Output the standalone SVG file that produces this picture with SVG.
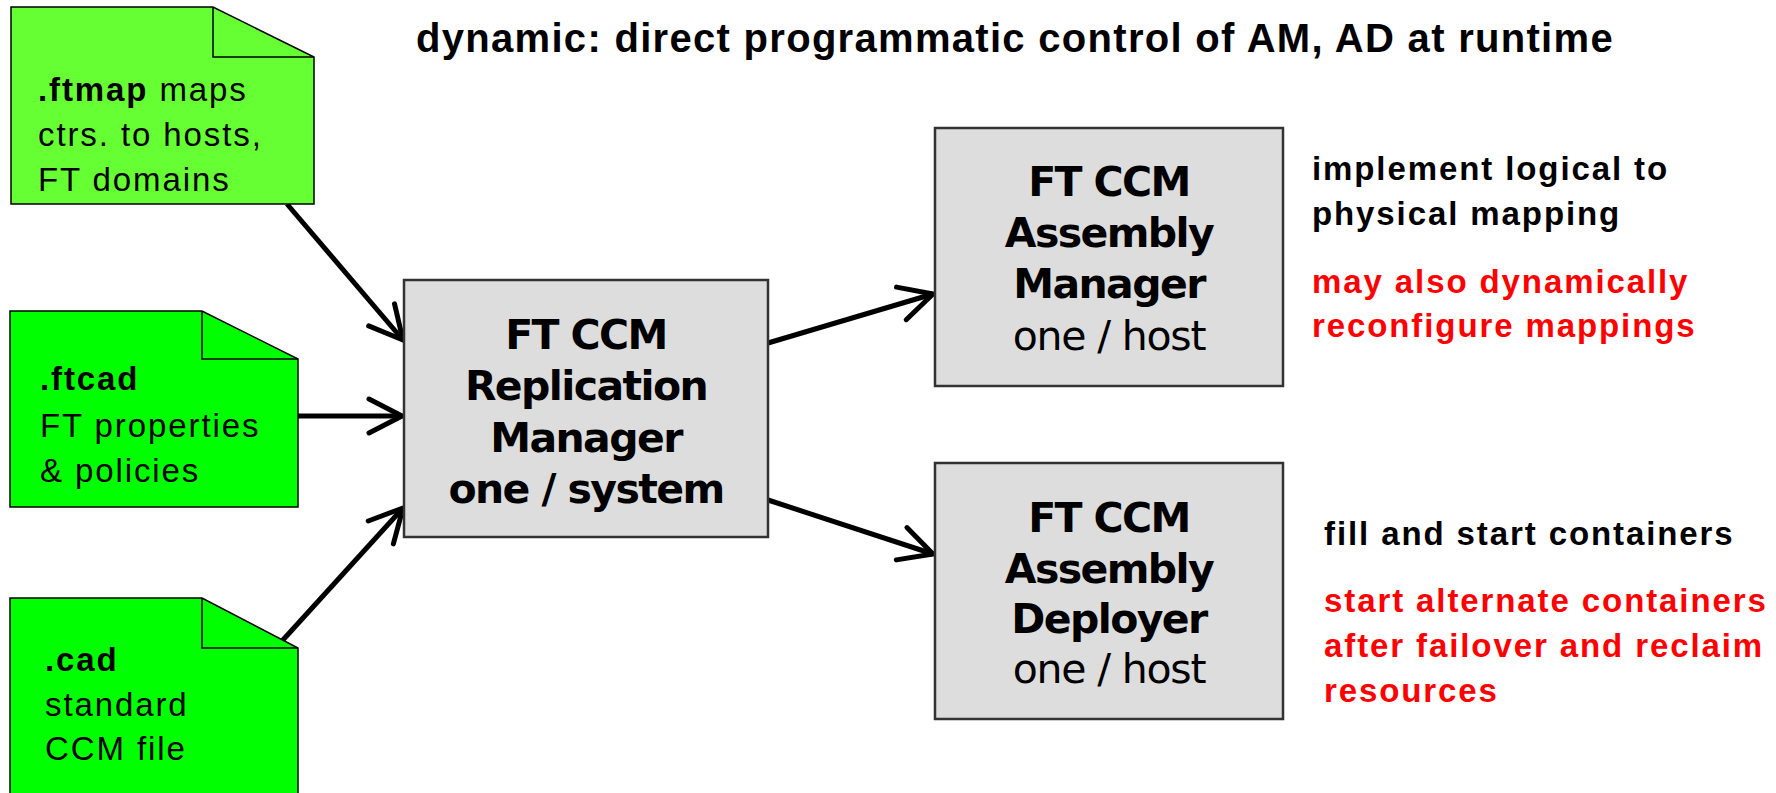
<svg xmlns="http://www.w3.org/2000/svg" width="1776" height="793" viewBox="0 0 1776 793">
  <style>
    .sans { font-family: "Liberation Sans", Arial, sans-serif; font-size: 33px; letter-spacing: 1.9px; }
    .b { font-weight: bold; }
    .red { fill: #FF0000; }
    .title { font-family: "Liberation Sans", Arial, sans-serif; font-size: 40px; font-weight: bold; letter-spacing: 1.3px; }
    .doc { stroke: #000; stroke-width: 1.5; }
    .fold { fill: none; stroke: #000; stroke-width: 1.5; }
    .box { fill: #DDDDDD; stroke: #333; stroke-width: 2.5; }
    .bt { font-family: "DejaVu Sans", Verdana, sans-serif; font-size: 41px; font-weight: bold; letter-spacing: -1.6px; text-anchor: middle; }
    .rt { font-family: "DejaVu Sans", Verdana, sans-serif; font-size: 41px; letter-spacing: -1.2px; text-anchor: middle; }
    .conn { stroke: #000; stroke-width: 5; fill: none; marker-end: url(#arr); }
  </style>
  <defs>
    <marker id="arr" markerUnits="userSpaceOnUse" viewBox="-40 -22 46 44" refX="0" refY="0" markerWidth="46" markerHeight="44" orient="auto" overflow="visible">
      <path d="M-33,-17 L0,0 L-33,17" fill="none" stroke="#000" stroke-width="5" stroke-linecap="round" stroke-linejoin="round"/>
    </marker>
  </defs>
  <rect width="1776" height="793" fill="#FFFFFF"/>

  <text class="title" x="416" y="52">dynamic: direct programmatic control of AM, AD at runtime</text>

  <!-- connectors -->
  <g id="connectors">
    <line class="conn" x1="287" y1="204" x2="403" y2="340"/>
    <line class="conn" x1="298" y1="416" x2="402" y2="416"/>
    <line class="conn" x1="282" y1="641" x2="403" y2="508"/>
    <line class="conn" x1="768" y1="343" x2="933" y2="294"/>
    <line class="conn" x1="768" y1="500" x2="933" y2="554"/>
  </g>

  <!-- input files -->
  <g id="ftmap">
    <path class="doc" fill="#66FF33" d="M11,7 L213,7 L314,57 L314,204 L11,204 Z"/>
    <path class="fold" d="M213,7 L213,57 L314,57"/>
    <text class="sans" x="38" y="101"><tspan class="b">.ftmap</tspan> maps</text>
    <text class="sans" x="38" y="146">ctrs. to hosts,</text>
    <text class="sans" x="38" y="191">FT domains</text>
  </g>

  <g id="ftcad">
    <path class="doc" fill="#00FF00" d="M10,311 L202,311 L298,359 L298,507 L10,507 Z"/>
    <path class="fold" d="M202,311 L202,359 L298,359"/>
    <text class="sans b" x="40" y="390">.ftcad</text>
    <text class="sans" x="40" y="437">FT properties</text>
    <text class="sans" x="40" y="482">&amp; policies</text>
  </g>

  <g id="cad">
    <path class="doc" fill="#00FF00" d="M10,598 L202,598 L298,648 L298,800 L10,800 Z"/>
    <path class="fold" d="M202,598 L202,648 L298,648"/>
    <text class="sans b" x="45" y="671">.cad</text>
    <text class="sans" x="45" y="716">standard</text>
    <text class="sans" x="45" y="760">CCM file</text>
  </g>

  <!-- managers -->
  <g id="replication-manager">
    <rect class="box" x="404" y="280" width="364" height="257"/>
    <text class="bt" x="586" y="349">FT CCM</text>
    <text class="bt" x="586" y="400">Replication</text>
    <text class="bt" x="586" y="452">Manager</text>
    <text class="bt" x="586" y="503">one / system</text>
  </g>

  <g id="assembly-manager">
    <rect class="box" x="935" y="128" width="348" height="258"/>
    <text class="bt" x="1109" y="196">FT CCM</text>
    <text class="bt" x="1109" y="247">Assembly</text>
    <text class="bt" x="1109" y="298">Manager</text>
    <text class="rt" x="1109" y="350">one / host</text>
  </g>

  <g id="assembly-deployer">
    <rect class="box" x="935" y="463" width="348" height="256"/>
    <text class="bt" x="1109" y="532">FT CCM</text>
    <text class="bt" x="1109" y="583">Assembly</text>
    <text class="bt" x="1109" y="633">Deployer</text>
    <text class="rt" x="1109" y="683">one / host</text>
  </g>

  <!-- notes -->
  <g id="am-notes">
    <text class="sans b" x="1312" y="180">implement logical to</text>
    <text class="sans b" x="1312" y="225">physical mapping</text>
    <text class="sans b red" x="1312" y="293">may also dynamically</text>
    <text class="sans b red" x="1312" y="337">reconfigure mappings</text>
  </g>

  <g id="ad-notes">
    <text class="sans b" x="1324" y="545">fill and start containers</text>
    <text class="sans b red" x="1324" y="612">start alternate containers</text>
    <text class="sans b red" x="1324" y="657">after failover and reclaim</text>
    <text class="sans b red" x="1324" y="702">resources</text>
  </g>
</svg>
